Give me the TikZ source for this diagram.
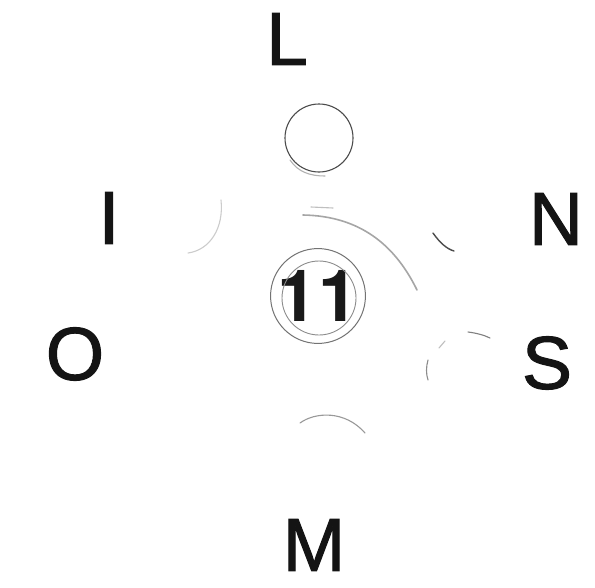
\documentclass[tikz,border=0pt]{standalone}
\usepackage{fontspec}
\setmainfont{Liberation Sans}
\newfontfamily\labfont[FakeBold=1.4]{Liberation Sans}
\newfontfamily\numfont{TeX Gyre Heros}
\begin{document}
\begin{tikzpicture}[x=1pt,y=-1pt,
  lab/.style={inner sep=0pt,font=\labfont\fontsize{75}{75}\selectfont,text=black!92},
  ring/.style={circle,draw,inner sep=0pt},
  faint/.style={draw=black!25,line width=1.1pt,line cap=round}]
\useasboundingbox[fill=white] (0,0) rectangle (595,587);
% letters
\node[lab] (L) at (287,39) {L};
\node[lab] (I) at (109,218) {I};
\node[lab] (N) at (556,219) {N};
\node[lab] (O) at (75,354) {O};
\node[lab] (S) at (547,363) {S};
\node[lab] (M) at (314,545) {M};
% top circle
\node[ring,draw=black!70,line width=1.1pt,minimum size=68pt] (top) at (319,138) {};
\draw[faint,draw=black!30] (290,160) .. controls (298,172) and (310,176) .. (325,176);
% center circle with 11
\node[ring,draw=black!55,line width=1pt,minimum size=80pt,
      font=\numfont\bfseries\fontsize{72}{72}\selectfont,text=black!90] (c) at (318,296) {11};
\draw[black!45,line width=0.9pt] (319,298) circle[radius=37pt];
% curve from center area
\coordinate (cs) at (303,215);
\coordinate (ce) at (417,290);
\draw[draw=black!35,line width=1.6pt,line cap=round] (cs) .. controls (360,216) and (395,245) .. (ce);
\coordinate (ts) at (311,207);
\coordinate (te) at (333,208);
\draw[faint] (ts) -- (te);
% left arc near I
\coordinate (la) at (221,200);
\coordinate (lb) at (188,253);
\draw[faint,draw=black!20] (la) .. controls (224,228) and (210,250) .. (lb);
% right arc near N
\coordinate (ra) at (433,233);
\coordinate (rb) at (454,251);
\draw[black!70,line width=1.4pt,line cap=round] (ra) .. controls (440,243) and (447,249) .. (rb);
% S circle arcs
\coordinate (sa) at (468,332);
\coordinate (sb) at (490,338);
\draw[faint,draw=black!50] (sa) .. controls (476,333) and (484,335) .. (sb);
\coordinate (sc) at (428,360);
\coordinate (sd) at (428,380);
\draw[faint,draw=black!45] (sc) .. controls (426,367) and (426,374) .. (sd);
\coordinate (se) at (439,348);
\coordinate (sf) at (445,341);
\draw[faint] (se) -- (sf);
% M arc
\coordinate (ma) at (300,423);
\coordinate (mb) at (365,433);
\draw[faint,draw=black!40] (ma) .. controls (315,412) and (345,410) .. (mb);
\end{tikzpicture}
\end{document}
